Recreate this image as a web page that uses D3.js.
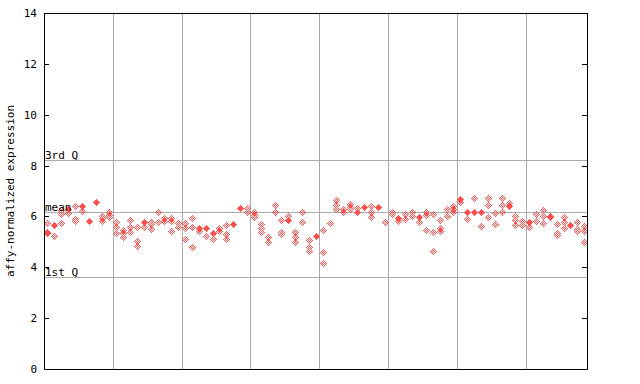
<!DOCTYPE html>
<html><head><meta charset="utf-8">
<script src="https://cdn.jsdelivr.net/npm/d3@7"></script>
<style>body{margin:0;background:#fff}svg{display:block}text{font-family:"DejaVu Sans Mono",monospace;font-size:11px;fill:#000}</style>
</head><body><svg id="c" width="640" height="384"></svg>
<script>
// samples per column (index = column); repeated values overlap into solid marks
const columns = [
[5.73,5.40,5.33],[5.67,5.67,5.23],[6.25,6.08,5.73],[6.28,6.28,6.12],[6.41,5.90,5.82],
[6.42,6.42,6.23],[5.82,5.82],[6.58,6.58],[6.02,5.92,5.82],[6.19,6.06,5.97],
[5.77,5.58,5.33],[5.47,5.36,5.18],[5.86,5.60,5.40],[5.58,5.03,4.84],[5.79,5.79,5.57],
[5.79,5.69,5.49],[6.16,5.79],[5.93,5.83],[5.93,5.83,5.44],[5.74,5.57],
[5.74,5.53,5.10],[5.93,5.60,4.79],[5.56,5.56,5.44],[5.56,5.56,5.22],[5.33,5.33,5.10],
[5.56,5.44],[5.65,5.30,5.10],[5.70,5.70],[6.32,6.32],[6.32,6.16],
[6.16,6.06,5.97],[5.69,5.56,5.39],[5.18,4.98],[6.45,6.19],[5.85,5.40,5.31],
[6.00,5.86,5.86],[5.39,5.18,5.01],[6.16,5.77],[5.07,4.79,4.65],[5.23,5.23],
[5.47,4.59,4.16],[5.73],[6.65,6.45,6.28],[6.28,6.19],[6.49,6.38,6.28],
[6.32,6.16,6.16],[6.38,6.38],[6.42,6.19,5.97],[6.36,6.36],[5.77],
[6.19,6.10],[5.93,5.93,5.83],[6.10,5.90],[6.16,6.03],[5.97,5.97,5.79],
[6.19,6.06,5.47],[6.10,5.39,4.64],[5.86,5.56,5.43],[6.28,6.02],[6.42,6.28,6.19],
[6.67,6.67,6.55],[6.16,6.16,5.90],[6.71,6.16,6.16],[6.19,6.19,5.61],[6.71,6.45,5.97],
[6.12,5.70],[6.71,6.45,6.16],[6.51,6.41,6.41],[6.03,5.86,5.65],[5.83,5.66],
[5.77,5.77,5.57],[6.10,5.82],[6.25,6.03,5.73],[6.03,5.97],[5.70,5.36,5.27],
[5.97,5.79,5.53],[5.66,5.66],[5.77,5.49,5.43],[5.62,5.43,4.98]
];
const groupBounds = [10,20,30,40,50,60,70];
const yTicks = [0,2,4,6,8,10,12,14];
const refLines = [{label:"3rd Q", value:8.22},{label:"mean", value:6.19},{label:"1st Q", value:3.61}];
const yLabel = "affy-normalized expression";

const svg = d3.select("#c");
const L=44, R=587, T=13, B=369;
const x = d3.scaleLinear().domain([0,78.9]).range([L,R]);
const y = d3.scaleLinear().domain([0,14]).range([B,T]);
const grid = "#aaaaaa", red = "#ff5050";
const g = svg.append("g").attr("shape-rendering","crispEdges");

// vertical group lines
g.selectAll(".vg").data(groupBounds).join("line")
  .attr("x1",d=>Math.round(x(d))+0.5).attr("x2",d=>Math.round(x(d))+0.5)
  .attr("y1",T).attr("y2",B).attr("stroke",grid);
// reference lines
g.selectAll(".hg").data(refLines).join("line")
  .attr("x1",L).attr("x2",R).attr("y1",d=>Math.round(y(d.value))+0.5).attr("y2",d=>Math.round(y(d.value))+0.5)
  .attr("stroke",grid);

// points as pixel diamonds
function diamondPath(cx, cy, solid){
  let p="";
  for(let dy=-3;dy<=3;dy++) for(let dx=-3;dx<=3;dx++){
    const m=Math.abs(dx)+Math.abs(dy);
    if(m>3) continue;
    if(!solid && m%2===0) continue;
    p+=`M${cx+dx},${cy+dy}h1v1h-1z`;
  }
  return p;
}
const marks=[];
columns.forEach((vals,i)=>{
  const counts=d3.rollup(vals,v=>v.length,v=>Math.round(y(v)));
  counts.forEach((n,py)=>marks.push({cx:Math.round(x(i+0.5))-0.0|0, cy:py, solid:n>1}));
});
g.selectAll(".pt").data(marks).join("path")
  .attr("d",d=>diamondPath(Math.round(x(0)+ (d.cx - x(0))), d.cy, d.solid))
  .attr("fill",red);

// frame
g.append("rect").attr("x",L+0.5).attr("y",T+0.5).attr("width",R-L).attr("height",B-T)
  .attr("fill","none").attr("stroke","#000");
// ticks (inward, both sides)
g.selectAll(".tl").data(yTicks).join("line")
  .attr("x1",L).attr("x2",L+5).attr("y1",d=>Math.round(y(d))+0.5).attr("y2",d=>Math.round(y(d))+0.5).attr("stroke","#000");
g.selectAll(".tr").data(yTicks).join("line")
  .attr("x1",R-5).attr("x2",R).attr("y1",d=>Math.round(y(d))+0.5).attr("y2",d=>Math.round(y(d))+0.5).attr("stroke","#000");
svg.selectAll(".tt").data(yTicks).join("text")
  .attr("x",37).attr("y",d=>y(d)+4).attr("text-anchor","end").text(d=>d);

// ref labels
svg.selectAll(".rl").data(refLines).join("text")
  .attr("x",L+1).attr("y",d=>y(d.value)-1).text(d=>d.label);

svg.append("text").attr("transform",`translate(14,${(T+B)/2}) rotate(-90)`)
  .attr("text-anchor","middle").text(yLabel);
</script></body></html>
